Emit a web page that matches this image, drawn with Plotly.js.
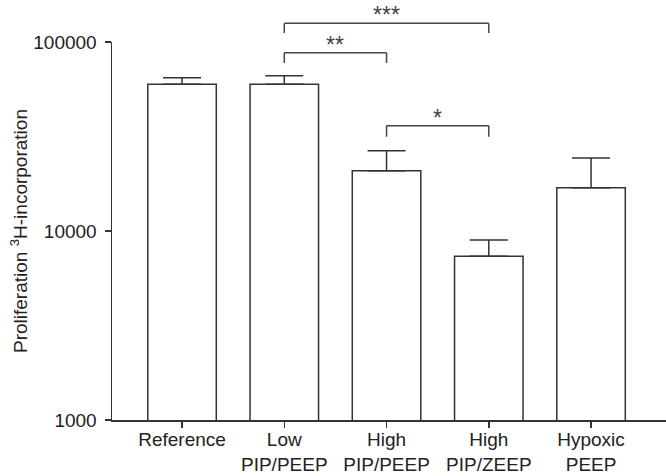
<!DOCTYPE html>
<html>
<head>
<meta charset="utf-8">
<script src="https://cdn.plot.ly/plotly-3.0.1.min.js"></script>
<style>html,body{margin:0;padding:0;background:#fff;}#chart{width:666px;height:476px;}</style>
</head>
<body>
<div id="chart"></div>
<script>
// Data
var categories = ["Reference", "Low<br>PIP/PEEP", "High<br>PIP/PEEP", "High<br>PIP/ZEEP", "Hypoxic<br>PEEP"];
var means = [59750, 59750, 20840, 7350, 16950];
var upperErrors = [64740, 66310, 26600, 8960, 24330]; // top of SEM bars
var yTickVals = [1000, 10000, 100000];
var yTickText = ["1000", "10000", "100000"];
// Significance comparisons: [fromIndex, toIndex, label, bracketTopLog10, legBottomLog10]
var comparisons = [
  [1, 3, "***", 5.099, 5.048],
  [1, 2, "**", 4.943, 4.889],
  [2, 3, "*", 4.557, 4.499]
];

var yRangeLog = [3, 5];
function toPaper(lg) { return (lg - yRangeLog[0]) / (yRangeLog[1] - yRangeLog[0]); }

var errPlus = upperErrors.map(function (u, i) { return u - means[i]; });
var errMinus = means.map(function () { return 0; });
var xIdx = categories.map(function (c, i) { return i; });

var lineCol = "#333333";
var trace = {
  type: "bar",
  x: xIdx,
  y: means,
  width: 0.67,
  marker: { color: "#ffffff", line: { color: lineCol, width: 1.5 } },
  error_y: {
    type: "data", symmetric: false, array: errPlus, arrayminus: errMinus,
    color: lineCol, thickness: 1.5, width: 19
  },
  hoverinfo: "skip"
};

var shapes = [], annotations = [];
comparisons.forEach(function (c) {
  var top = toPaper(c[3]), bot = toPaper(c[4]);
  var ln = { color: "#444444", width: 1.5 };
  shapes.push({ type: "line", xref: "x", yref: "paper", x0: c[0], x1: c[1], y0: top, y1: top, line: ln });
  shapes.push({ type: "line", xref: "x", yref: "paper", x0: c[0], x1: c[0], y0: top, y1: bot, line: ln });
  shapes.push({ type: "line", xref: "x", yref: "paper", x0: c[1], x1: c[1], y0: top, y1: bot, line: ln });
  annotations.push({
    xref: "x", yref: "paper", x: (c[0] + c[1]) / 2, y: top, yanchor: "bottom", yshift: -7,
    text: c[2], showarrow: false, font: { size: 23, color: "#444444" }
  });
});

var layout = {
  width: 666, height: 476,
  margin: { l: 112, r: 0, t: 42, b: 56, pad: 0 },
  paper_bgcolor: "#ffffff", plot_bgcolor: "#ffffff",
  font: { family: "Liberation Sans, Arial, sans-serif", size: 19, color: "#222222" },
  showlegend: false,
  bargap: 0.33,
  xaxis: {
    tickmode: "array", tickvals: xIdx, ticktext: categories,
    range: [-0.685, 4.733],
    showline: true, linecolor: lineCol, linewidth: 1.5,
    ticks: "outside", ticklen: 6, tickwidth: 1.5, tickcolor: lineCol,
    ticklabelstandoff: -4,
    showgrid: false, zeroline: false,
    tickfont: { size: 19 }
  },
  yaxis: {
    type: "log", range: yRangeLog,
    tickmode: "array", tickvals: yTickVals, ticktext: yTickText,
    showline: true, linecolor: lineCol, linewidth: 1.5,
    ticks: "outside", ticklen: 6, tickwidth: 1.5, tickcolor: lineCol,
    ticklabelstandoff: 4,
    showgrid: false, zeroline: false,
    tickfont: { size: 19 },
    title: { text: "Proliferation <sup>3</sup>H-incorporation", font: { size: 19 }, standoff: 0 }
  },
  shapes: shapes,
  annotations: annotations
};

Plotly.newPlot("chart", [trace], layout, { staticPlot: true, displayModeBar: false });
</script>
</body>
</html>
